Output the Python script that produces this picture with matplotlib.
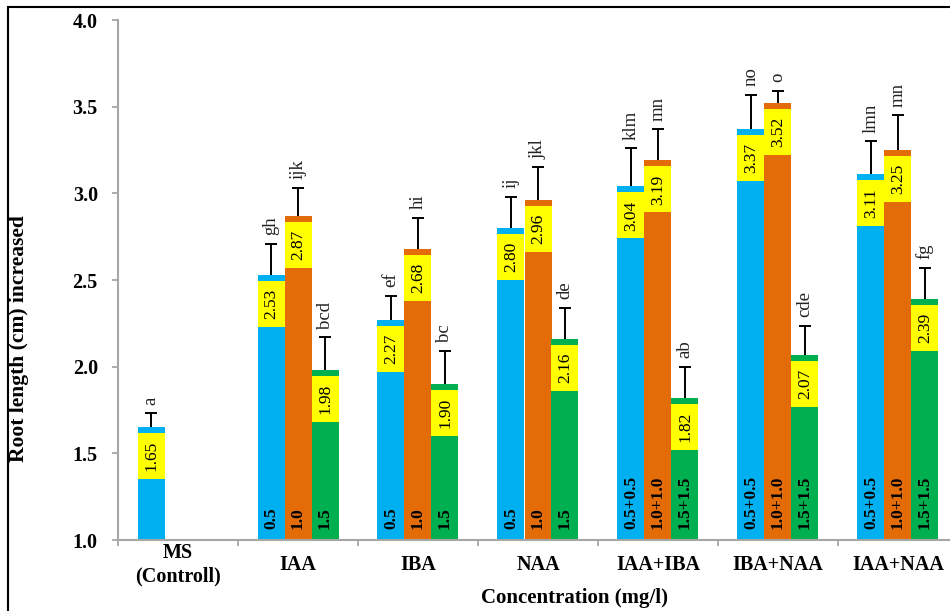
import matplotlib.pyplot as plt
from matplotlib.patches import Rectangle
import numpy as np

plt.rcParams['font.family'] = ['Liberation Serif', 'DejaVu Serif']

# data
categories = ["MS\n(Controll)", "IAA", "IBA", "NAA", "IAA+IBA", "IBA+NAA", "IAA+NAA"]
low_vals = [1.65, 2.53, 2.27, 2.80, 3.04, 3.37, 3.11]
mid_vals = [None, 2.87, 2.68, 2.96, 3.19, 3.52, 3.25]
high_vals = [None, 1.98, 1.90, 2.16, 1.82, 2.07, 2.39]
low_err = [0.08, 0.18, 0.14, 0.18, 0.22, 0.20, 0.19]
mid_err = [None, 0.16, 0.18, 0.19, 0.18, 0.07, 0.20]
high_err = [None, 0.19, 0.19, 0.18, 0.18, 0.165, 0.18]
low_sig = ["a", "gh", "ef", "ij", "klm", "no", "lmn"]
mid_sig = [None, "ijk", "hi", "jkl", "mn", "o", "mn"]
high_sig = [None, "bcd", "bc", "de", "ab", "cde", "fg"]
low_dose = [None, "0.5", "0.5", "0.5", "0.5+0.5", "0.5+0.5", "0.5+0.5"]
mid_dose = [None, "1.0", "1.0", "1.0", "1.0+1.0", "1.0+1.0", "1.0+1.0"]
high_dose = [None, "1.5", "1.5", "1.5", "1.5+1.5", "1.5+1.5", "1.5+1.5"]

colors = ["#00B0F0", "#E36C09", "#00B050"]
yellow = "#FFFF00"
w = 0.225
band = 0.035
box = 0.265
cap = 0.05

fig = plt.figure(figsize=(9.5, 6.11), dpi=100)
ax = fig.add_axes([118 / 950, 1 - 540 / 611, 840 / 950, 520 / 611])

series = [
    (low_vals, low_err, low_sig, low_dose, -w, colors[0]),
    (mid_vals, mid_err, mid_sig, mid_dose, 0.0, colors[1]),
    (high_vals, high_err, high_sig, high_dose, w, colors[2]),
]

for vals, errs, sigs, doses, off, col in series:
    for i, v in enumerate(vals):
        if v is None:
            continue
        x = i + off
        top = v + errs[i]
        ax.bar(x, v - 1.0, bottom=1.0, width=w, color=col, zorder=2)
        # yellow label box just under the top band
        ax.bar(x, box, bottom=v - band - box, width=w, color=yellow, zorder=3)
        ax.text(x, v - band - box / 2, f"{v:.2f}", rotation=90, ha='center', va='center',
                fontsize=12.5, color='black', zorder=4)
        # upper error bar only
        ax.vlines(x, v, top, color='black', linewidth=1.4, zorder=4)
        ax.hlines(top, x - cap, x + cap, color='black', linewidth=1.4, zorder=4)
        ax.text(x, top + 0.05, sigs[i], rotation=90, ha='center', va='bottom',
                fontsize=13.5, color='#222222')
        if doses[i] is not None:
            ax.text(x, 1.065, doses[i], rotation=90, ha='center', va='bottom',
                    fontsize=12.5, fontweight='bold', color='black', zorder=4)

ax.set_xlim(-0.5, 6.5)
ax.set_ylim(1.0, 4.0)
yticks = np.arange(1.0, 4.01, 0.5)
ax.set_yticks(yticks)
ax.set_yticklabels([f"{t:.1f}" for t in yticks], fontsize=14.5, fontweight='bold')
ax.set_xticks(range(len(categories)))
ax.set_xticklabels(categories, fontsize=14.5, fontweight='bold', linespacing=1.2)
for lbl in ax.get_xticklabels():
    lbl.set_verticalalignment('center')
ax.set_xticks(np.arange(-0.5, 7.0, 1.0), minor=True)
ax.tick_params(axis='x', which='major', length=0, pad=18)
ax.tick_params(axis='x', which='minor', length=4.5, width=1.3, color='#a6a6a6', direction='out')
ax.tick_params(axis='y', length=4, width=1.3, color='#a6a6a6', direction='out', pad=10.5)

for s in ['top', 'right']:
    ax.spines[s].set_visible(False)
for s in ['left', 'bottom']:
    ax.spines[s].set_color('#a6a6a6')
    ax.spines[s].set_linewidth(1.5)

ax.set_ylabel("Root length (cm) increased", fontsize=15.5, fontweight='bold', va='center')
ax.yaxis.set_label_coords(-99 / 840, 0.387)
ax.set_xlabel("Concentration (mg/l)", fontsize=15, fontweight='bold', va='center')
ax.xaxis.set_label_coords(457 / 840, -58 / 520)

# outer frame
fig.patches.append(Rectangle((8 / 950, -0.05), 1.0, 1 - 7 / 611 + 0.05, transform=fig.transFigure,
                             fill=False, edgecolor='black', linewidth=1.5))

fig.savefig("out.png", dpi=100)
